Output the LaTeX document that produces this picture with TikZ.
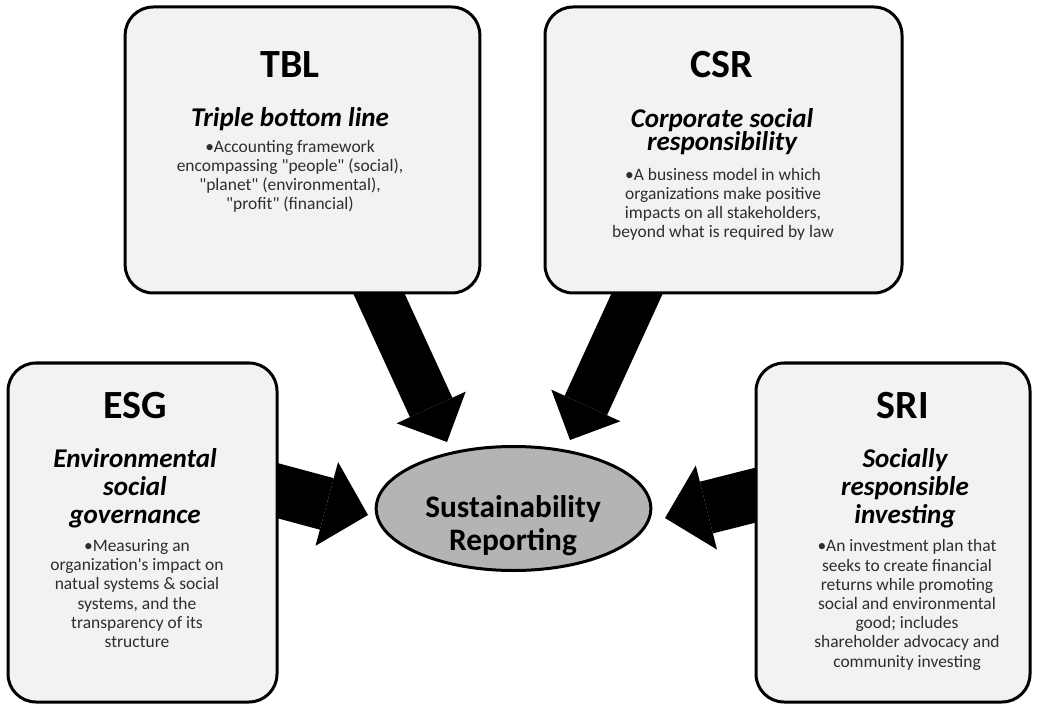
\documentclass[tikz,border=0pt]{standalone}
\usepackage{fontspec}
\setmainfont{Carlito}
\usetikzlibrary{positioning, arrows.meta, shapes.geometric}
\pgfdeclarelayer{back}
\pgfsetlayers{back,main}
\definecolor{cardfill}{HTML}{F2F2F2}
\definecolor{hubfill}{HTML}{B4B4B4}
\definecolor{bodytext}{HTML}{2E2E2E}
\newcommand{\qt}[1]{\textquotedbl#1\textquotedbl}

\begin{document}
\begin{tikzpicture}[x = 0.75pt, y = -0.75pt,
    card/.style = { draw, line width = 2.25pt, fill = cardfill, rounded corners = 21pt, inner sep = 0pt },
    cardtitle/.style = { anchor = base, inner sep = 0pt, font = \fontsize{30}{36}\selectfont\bfseries },
    cardname/.style = { anchor = base, inner sep = 0pt, align = center,
      font = \fontsize{20.3}{21}\selectfont\bfseries\itshape },
    cardbody/.style = { anchor = base, inner sep = 0pt, align = center, text = bodytext,
      font = \fontsize{13.1}{14.4}\selectfont },
    hubtext/.style = { anchor = base, inner sep = 0pt, align = center,
      font = \fontsize{23.5}{24.75}\selectfont\bfseries },
    toparrow/.style = { line width = 35pt, shorten <= -20pt,
      -{Triangle[length = 28.5pt, width = 57pt, line width = 0pt]} },
    sidearrow/.style = { line width = 40pt, shorten <= -20pt,
      -{Triangle[length = 32pt, width = 65pt, line width = 0pt]} }]
    \useasboundingbox (0,0) rectangle (1037,705);

    \node [card, minimum width = 266pt, minimum height = 214.5pt] (tbl) at (302.5,150) {};
    \node [cardtitle] (tbl-title) at (290,78) {TBL};
    \node [cardname] (tbl-name) at (290,127) {Triple bottom line};
    \node [cardbody] (tbl-body) at (290,210) {•Accounting framework\\ encompassing \qt{people} (social),\\ \qt{planet} (environmental),\\ \qt{profit} (financial)};

    \node [card, minimum width = 267.75pt, minimum height = 214.5pt] (csr) at (723.5,150) {};
    \node [cardtitle] (csr-title) at (722,78) {CSR};
    \node [cardname] (csr-name) at (722,150.5) {Corporate social\\[-3.75pt] responsibility};
    \node [cardbody] (csr-body) at (723,238) {•A business model in which\\ organizations make positive\\ impacts on all stakeholders,\\ beyond what is required by law};

    \node [card, minimum width = 201.75pt, minimum height = 254.25pt] (esg) at (142.5,532.5) {};
    \node [cardtitle] (esg-title) at (135,418) {ESG};
    \node [cardname] (esg-name) at (135,523) {Environmental\\ social\\ governance};
    \node [cardbody] (esg-body) at (137,647.5) {•Measuring an\\ organization\textquotesingle s impact on\\ natual systems \& social\\ systems, and the\\ transparency of its\\ structure};

    \node [card, minimum width = 205.5pt, minimum height = 254.25pt] (sri) at (893,532.5) {};
    \node [cardtitle] (sri-title) at (903,418) {SRI};
    \node [cardname] (sri-name) at (905,523) {Socially\\ responsible\\ investing};
    \node [cardbody] (sri-body) at (907,667) {•An investment plan that\\ seeks to create financial\\ returns while promoting\\ social and environmental\\ good; includes\\ shareholder advocacy and\\ community investing};

    \node [ellipse, draw, line width = 2.25pt, fill = hubfill, minimum width = 206pt, minimum height = 93pt, inner sep = 0pt] (sr) at (513.5,508.5) {};
    \node [hubtext] (sr-text) at (513,550) {Sustainability\\ Reporting};

    \coordinate (tbl-tip) at (447,442);
    \coordinate (csr-tip) at (570,440);
    \coordinate (esg-tip) at (368,515);
    \coordinate (sri-tip) at (665,518);

    \begin{pgfonlayer}{back}
      \draw [toparrow] (tbl.-62) -- (tbl-tip);
      \draw [toparrow] (csr.-121) -- (csr-tip);
      \draw [sidearrow] (esg.17) -- (esg-tip);
      \draw [sidearrow] (sri.165) -- (sri-tip);
    \end{pgfonlayer}
\end{tikzpicture}
\end{document}
